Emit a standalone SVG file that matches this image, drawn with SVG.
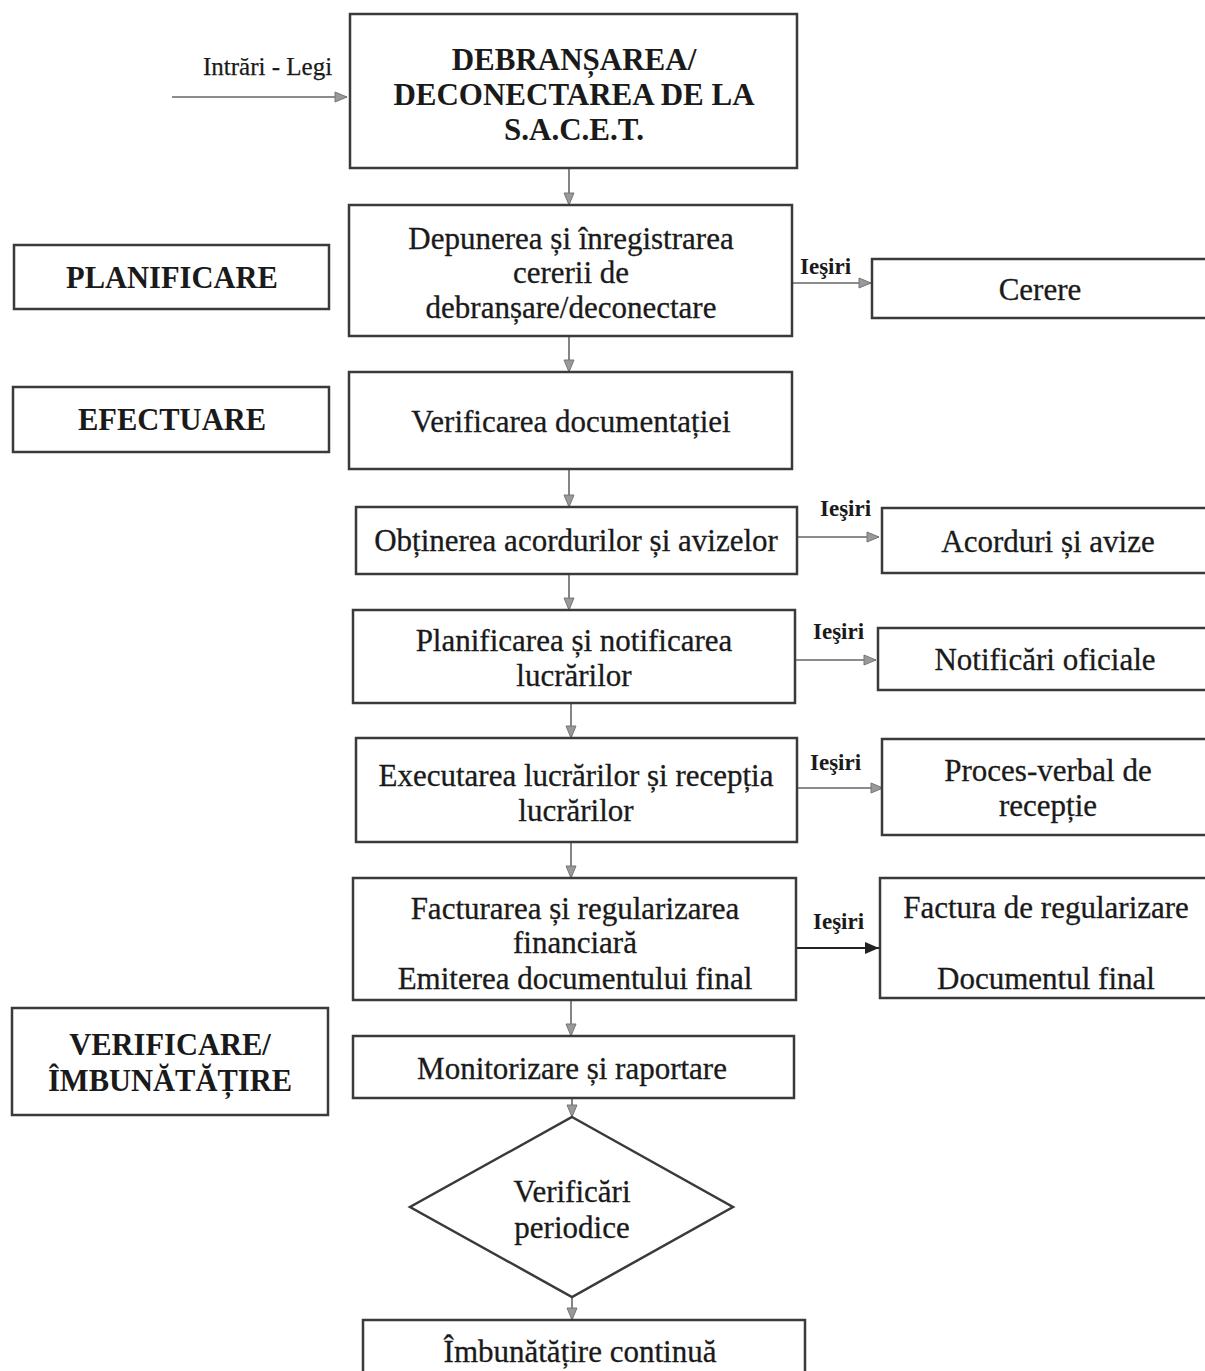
<svg xmlns="http://www.w3.org/2000/svg" width="1205" height="1371" viewBox="0 0 1205 1371">
<defs>
<marker id="ga" markerWidth="14" markerHeight="12" refX="13" refY="6" orient="auto" markerUnits="userSpaceOnUse">
<path d="M1,1 L13,6 L1,11 Z" fill="#999" stroke="#777" stroke-width="1"/>
</marker>
<marker id="ba" markerWidth="16" markerHeight="14" refX="15" refY="7" orient="auto" markerUnits="userSpaceOnUse">
<path d="M1,1 L15,7 L1,13 Z" fill="#222"/>
</marker>
</defs>
<style>
.box{fill:#fff;stroke:#3a3a3a;stroke-width:2.5}
.t{font-family:"Liberation Serif","Times New Roman",serif;font-size:31px;fill:#1a1a1a;stroke:#1a1a1a;stroke-width:0.3;text-anchor:middle}
.b{font-family:"Liberation Serif","Times New Roman",serif;font-size:30.5px;font-weight:bold;fill:#1a1a1a;text-anchor:middle}
.s{font-family:"Liberation Serif","Times New Roman",serif;font-size:23px;font-weight:bold;fill:#1a1a1a}
.i{font-family:"Liberation Serif","Times New Roman",serif;font-size:25px;fill:#1a1a1a;stroke:#1a1a1a;stroke-width:0.25}
.c{stroke:#666;stroke-width:1.6;fill:none}
</style>
<rect width="1205" height="1371" fill="#fff"/>
<g id="connectors">
<line class="c" x1="172" y1="97" x2="347" y2="97" marker-end="url(#ga)"/>
<line class="c" x1="569" y1="168" x2="569" y2="205" marker-end="url(#ga)"/>
<line class="c" x1="569" y1="336" x2="569" y2="372" marker-end="url(#ga)"/>
<line class="c" x1="569" y1="469" x2="569" y2="507" marker-end="url(#ga)"/>
<line class="c" x1="569" y1="574" x2="569" y2="610" marker-end="url(#ga)"/>
<line class="c" x1="571" y1="703" x2="571" y2="738" marker-end="url(#ga)"/>
<line class="c" x1="571" y1="842" x2="571" y2="878" marker-end="url(#ga)"/>
<line class="c" x1="571" y1="1000" x2="571" y2="1036" marker-end="url(#ga)"/>
<line class="c" x1="572" y1="1098" x2="572" y2="1117" marker-end="url(#ga)"/>
<line class="c" x1="572" y1="1297" x2="572" y2="1320" marker-end="url(#ga)"/>
<line class="c" x1="792" y1="283" x2="871" y2="283" marker-end="url(#ga)"/>
<line class="c" x1="797" y1="537" x2="879" y2="537" marker-end="url(#ga)"/>
<line class="c" x1="795" y1="660" x2="876" y2="660" marker-end="url(#ga)"/>
<line class="c" x1="797" y1="788" x2="883" y2="788" marker-end="url(#ga)"/>
<line x1="797" y1="948" x2="879" y2="948" stroke="#222" stroke-width="2" marker-end="url(#ba)"/>
<text class="i" x="203" y="75">Intrări - Legi</text>
<text class="s" x="800" y="274">Ieşiri</text>
<text class="s" x="820" y="516">Ieşiri</text>
<text class="s" x="813" y="639">Ieşiri</text>
<text class="s" x="810" y="770">Ieşiri</text>
<text class="s" x="813" y="929">Ieşiri</text>
</g>
<g id="n-title">
<rect class="box" x="350" y="14" width="447" height="154"/>
<text class="b" x="574" y="70" style="font-size:31px">DEBRANȘAREA/</text>
<text class="b" x="574" y="105" style="font-size:31px">DECONECTAREA DE LA</text>
<text class="b" x="574" y="140" style="font-size:31px">S.A.C.E.T.</text>
</g>
<g id="n-planificare">
<rect class="box" x="14" y="245" width="315" height="64"/>
<text class="b" x="172" y="288">PLANIFICARE</text>
</g>
<g id="n-efectuare">
<rect class="box" x="13" y="387" width="316" height="65"/>
<text class="b" x="172" y="430">EFECTUARE</text>
</g>
<g id="n-verificare">
<rect class="box" x="12" y="1008" width="316" height="107"/>
<text class="b" x="170" y="1055">VERIFICARE/</text>
<text class="b" x="170" y="1091">ÎMBUNĂTĂȚIRE</text>
</g>
<g id="n-depunerea">
<rect class="box" x="349" y="205" width="443" height="131"/>
<text class="t" x="571" y="249">Depunerea și înregistrarea</text>
<text class="t" x="571" y="283">cererii de</text>
<text class="t" x="571" y="318">debranșare/deconectare</text>
</g>
<g id="n-cerere">
<rect class="box" x="872" y="259" width="345" height="59"/>
<text class="t" x="1040" y="300">Cerere</text>
</g>
<g id="n-verificarea">
<rect class="box" x="349" y="372" width="443" height="97"/>
<text class="t" x="571" y="432">Verificarea documentației</text>
</g>
<g id="n-obtinerea">
<rect class="box" x="356" y="507" width="441" height="67"/>
<text class="t" x="576" y="551">Obținerea acordurilor și avizelor</text>
</g>
<g id="n-acorduri">
<rect class="box" x="882" y="508" width="335" height="65"/>
<text class="t" x="1048" y="552">Acorduri și avize</text>
</g>
<g id="n-planificarea">
<rect class="box" x="353" y="610" width="442" height="93"/>
<text class="t" x="574" y="651">Planificarea și notificarea</text>
<text class="t" x="574" y="686">lucrărilor</text>
</g>
<g id="n-notificari">
<rect class="box" x="878" y="628" width="339" height="62"/>
<text class="t" x="1045" y="670">Notificări oficiale</text>
</g>
<g id="n-executarea">
<rect class="box" x="356" y="738" width="441" height="104"/>
<text class="t" x="576" y="786">Executarea lucrărilor și recepția</text>
<text class="t" x="576" y="821">lucrărilor</text>
</g>
<g id="n-proces">
<rect class="box" x="882" y="739" width="335" height="96"/>
<text class="t" x="1048" y="781">Proces-verbal de</text>
<text class="t" x="1048" y="816">recepție</text>
</g>
<g id="n-facturarea">
<rect class="box" x="353" y="878" width="443" height="122"/>
<text class="t" x="575" y="919">Facturarea și regularizarea</text>
<text class="t" x="575" y="953">financiară</text>
<text class="t" x="575" y="989">Emiterea documentului final</text>
</g>
<g id="n-factura">
<rect class="box" x="880" y="878" width="337" height="120"/>
<text class="t" x="1046" y="918">Factura de regularizare</text>
<text class="t" x="1046" y="989">Documentul final</text>
</g>
<g id="n-monitorizare">
<rect class="box" x="353" y="1036" width="441" height="62"/>
<text class="t" x="572" y="1079">Monitorizare și raportare</text>
</g>
<g id="n-verificari">
<polygon class="box" points="572,1117 733,1207 572,1297 410,1207"/>
<text class="t" x="572" y="1202">Verificări</text>
<text class="t" x="572" y="1238">periodice</text>
</g>
<g id="n-imbunatatire">
<rect class="box" x="363" y="1320" width="442" height="70"/>
<text class="t" x="580" y="1362">Îmbunătățire continuă</text>
</g>
</svg>
